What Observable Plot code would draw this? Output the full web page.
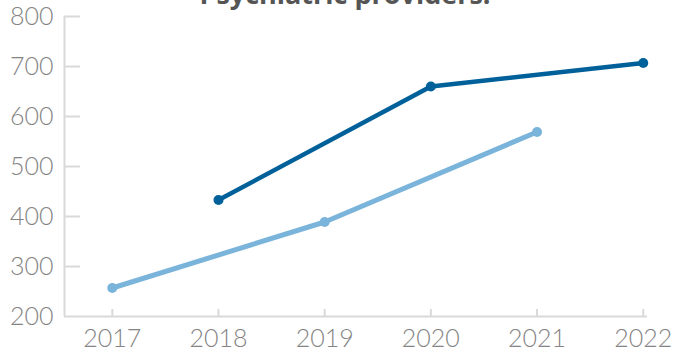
<!DOCTYPE html>
<html>
<head>
<meta charset="utf-8">
<script src="https://cdn.jsdelivr.net/npm/d3@7"></script>
<script src="https://cdn.jsdelivr.net/npm/@observablehq/plot@0.6"></script>
<style>
  html, body { margin: 0; padding: 0; background: #fff; }
  #chart svg { display: block; }
</style>
</head>
<body>
<div id="chart"></div>
<script>
const title = "Psychiatric providers:";
const darkYears = [2018, 2020, 2022];
const darkValues = [433, 660, 707];
const lightYears = [2017, 2019, 2021];
const lightValues = [257, 389, 569];
const xTicks = [2017, 2018, 2019, 2020, 2021, 2022];
const yTicks = [200, 300, 400, 500, 600, 700, 800];

const darkColor = "#00609a";
const lightColor = "#7ab4da";
const axisColor = "#d9d9d9";
const labelColor = "#848484";

const W = 673, H = 356;
const mL = 64, mR = 26, mT = 16, mB = 40;
const xDomain = [2016.55, 2022.04];
const yDomain = [200, 800];

const dark = darkYears.map((y, i) => ({year: y, value: darkValues[i]}));
const light = lightYears.map((y, i) => ({year: y, value: lightValues[i]}));

const frameW = W - mL - mR, frameH = H - mT - mB;

const plot = Plot.plot({
  width: W,
  height: H,
  marginLeft: mL,
  marginRight: mR,
  marginTop: mT,
  marginBottom: mB,
  style: {fontFamily: "Lato, 'Open Sans', sans-serif", fontWeight: 300, background: "#fff", overflow: "hidden"},
  x: {domain: xDomain, axis: null},
  y: {domain: yDomain, axis: null},
  marks: [
    Plot.ruleY([yDomain[0]], {stroke: axisColor, strokeWidth: 2}),
    Plot.ruleX([xDomain[0]], {stroke: axisColor, strokeWidth: 2}),
    Plot.tickY(yTicks.slice(1), {y: d => d, stroke: axisColor, strokeWidth: 2, insetRight: frameW - 16}),
    Plot.tickX(xTicks, {x: d => d, stroke: axisColor, strokeWidth: 2, insetTop: frameH - 7}),
    Plot.axisY({ticks: yTicks, tickSize: 0, tickPadding: 11, tickFormat: d => String(d), fontSize: 25, fill: labelColor, label: null}),
    Plot.axisX({ticks: xTicks, tickSize: 0, tickPadding: 13, tickFormat: d => String(d), fontSize: 25, fill: labelColor, label: null}),
    Plot.line(light, {x: "year", y: "value", stroke: lightColor, strokeWidth: 5}),
    Plot.dot(light, {x: "year", y: "value", fill: lightColor, r: 5}),
    Plot.line(dark, {x: "year", y: "value", stroke: darkColor, strokeWidth: 4.5}),
    Plot.dot(dark, {x: "year", y: "value", fill: darkColor, r: 5}),
    Plot.text([title], {text: d => d, frameAnchor: "top", lineAnchor: "bottom", dy: -13, dx: -11, fontSize: 27, fontWeight: 700, fontFamily: "'Open Sans', sans-serif", fill: "#555555"})
  ]
});
document.getElementById("chart").appendChild(plot);
</script>
</body>
</html>
